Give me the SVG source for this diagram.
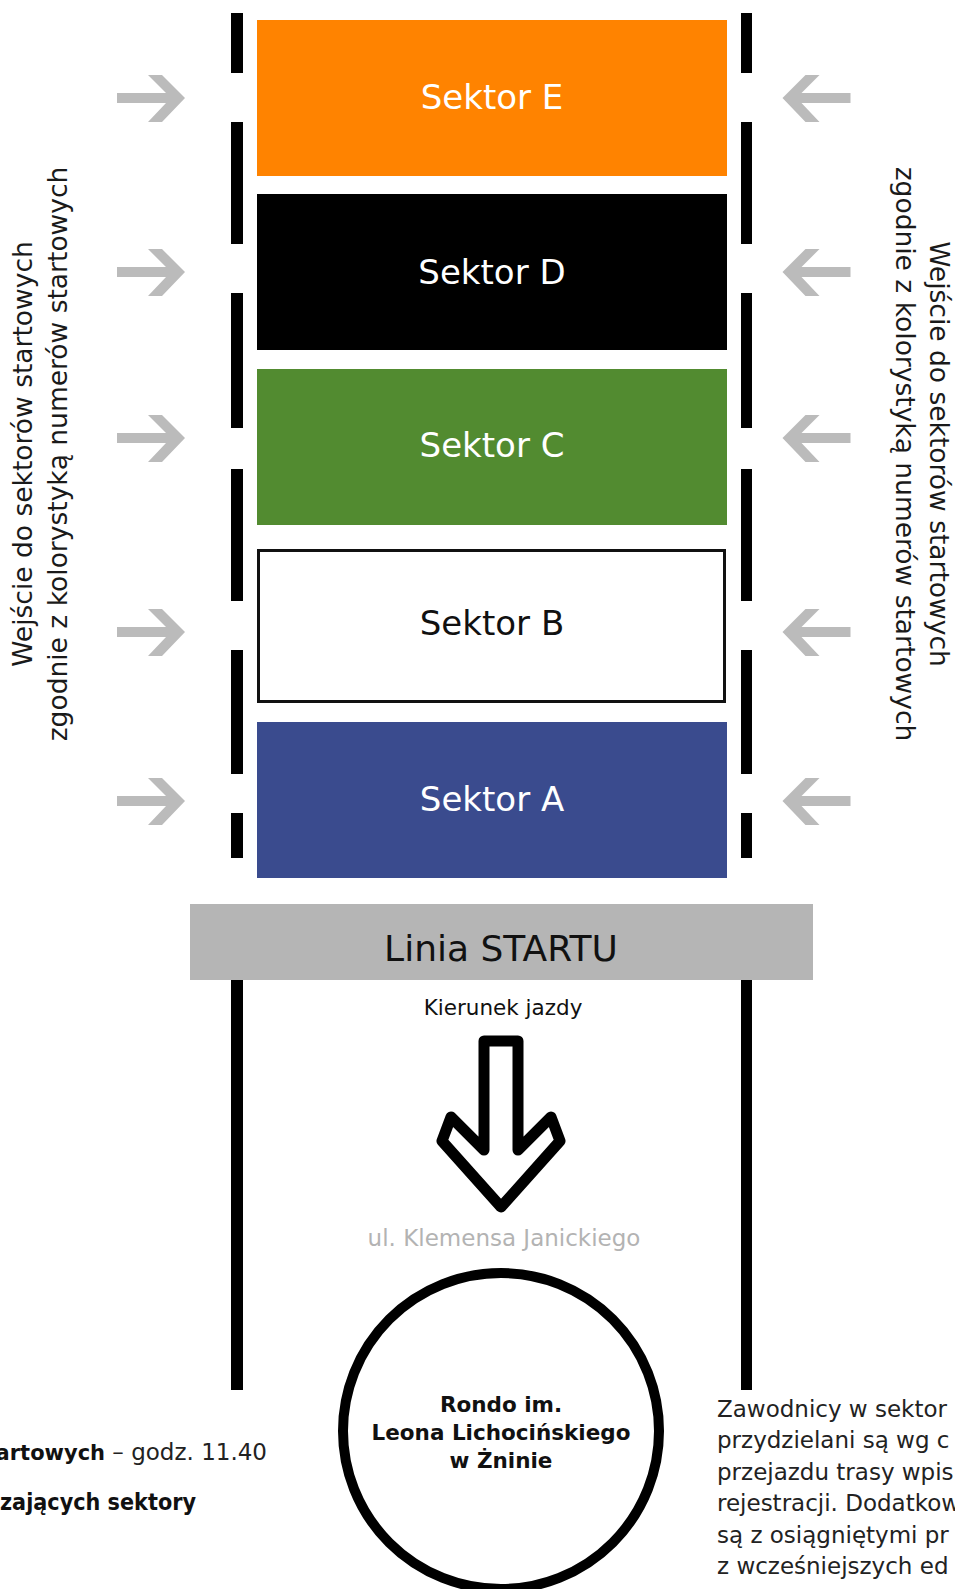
<svg xmlns="http://www.w3.org/2000/svg" width="955" height="1589" viewBox="0 0 955 1589">
<style>
text{font-family:"DejaVu Sans","Liberation Sans",sans-serif;}
.lbl{font-size:34px;text-anchor:middle;fill:#fff;}
.side{font-size:26.5px;text-anchor:middle;fill:#1a1a1a;}
.bar{fill:#000;}
.ent{fill:#bbbbbb;}
.body{font-size:23px;fill:#222;}
.b{font-weight:bold;fill:#111;}
</style>
<defs>
<polygon id="entry" points="148,75 162,75 185,98 162,122 148,122 166,103 117,103 117,93 166,93"/>
</defs>
<rect width="955" height="1589" fill="#fff"/>
<g id="lanes">
<rect class="bar" x="231" y="13" width="12" height="60"/>
<rect class="bar" x="231" y="122" width="12" height="122"/>
<rect class="bar" x="231" y="293" width="12" height="135"/>
<rect class="bar" x="231" y="469" width="12" height="132"/>
<rect class="bar" x="231" y="650" width="12" height="124"/>
<rect class="bar" x="231" y="813" width="12" height="45"/>
<rect class="bar" x="231" y="976" width="12" height="414"/>
<rect class="bar" x="741" y="13" width="11" height="60"/>
<rect class="bar" x="741" y="122" width="11" height="122"/>
<rect class="bar" x="741" y="293" width="11" height="135"/>
<rect class="bar" x="741" y="469" width="11" height="132"/>
<rect class="bar" x="741" y="650" width="11" height="124"/>
<rect class="bar" x="741" y="813" width="11" height="45"/>
<rect class="bar" x="741" y="976" width="11" height="414"/>
</g>
<g id="sektor-e">
<rect x="257" y="20" width="470" height="156" fill="#ff8300"/>
<text class="lbl" x="492" y="109">Sektor E</text>
</g>
<g id="sektor-d">
<rect x="257" y="194" width="470" height="156" fill="#000"/>
<text class="lbl" x="492" y="284">Sektor D</text>
</g>
<g id="sektor-c">
<rect x="257" y="369" width="470" height="156" fill="#528b30"/>
<text class="lbl" x="492" y="457">Sektor C</text>
</g>
<g id="sektor-b">
<rect x="258.5" y="550.5" width="466" height="151" fill="#fff" stroke="#111" stroke-width="3"/>
<text class="lbl" x="492" y="635" style="fill:#111">Sektor B</text>
</g>
<g id="sektor-a">
<rect x="257" y="722" width="470" height="156" fill="#3a4b8e"/>
<text class="lbl" x="492" y="811">Sektor A</text>
</g>
<g id="linia-startu">
<rect x="190" y="904" width="623" height="76" fill="#b5b5b5"/>
<text x="501" y="961" font-size="36" text-anchor="middle" fill="#111">Linia STARTU</text>
</g>
<g id="wejscie-lewe">
<text class="side" transform="translate(32,454) rotate(-90)">Wejście do sektorów startowych</text>
<text class="side" transform="translate(67,454) rotate(-90)">zgodnie z kolorystyką numerów startowych</text>
</g>
<g id="wejscie-prawe">
<text class="side" transform="translate(930,454) rotate(90)">Wejście do sektorów startowych</text>
<text class="side" transform="translate(896,454) rotate(90)">zgodnie z kolorystyką numerów startowych</text>
</g>
<g id="connectors">
<use href="#entry" class="ent" y="0"/>
<use href="#entry" class="ent" y="174"/>
<use href="#entry" class="ent" y="340"/>
<use href="#entry" class="ent" y="534"/>
<use href="#entry" class="ent" y="703"/>
<g transform="translate(967.5,0) scale(-1,1)">
<use href="#entry" class="ent" y="0"/>
<use href="#entry" class="ent" y="174"/>
<use href="#entry" class="ent" y="340"/>
<use href="#entry" class="ent" y="534"/>
<use href="#entry" class="ent" y="703"/>
</g>
<path id="kierunek-arrow" d="M484,1041 L518,1041 L518,1150 L551,1117 L560,1141 L501,1207 L442,1141 L451,1117 L484,1150 Z" fill="#fff" stroke="#000" stroke-width="11" stroke-linejoin="round"/>
</g>
<g id="kierunek">
<text x="503" y="1015" font-size="21.5" text-anchor="middle" fill="#111">Kierunek jazdy</text>
</g>
<g id="ulica">
<text x="504" y="1246" font-size="23" text-anchor="middle" fill="#b3b3b3">ul. Klemensa Janickiego</text>
</g>
<g id="rondo">
<circle cx="501" cy="1431" r="158" fill="#fff" stroke="#000" stroke-width="10"/>
<text x="501" y="1412" font-size="21.5" font-weight="bold" text-anchor="middle" fill="#111">Rondo im.</text>
<text x="501" y="1440" font-size="21.5" font-weight="bold" text-anchor="middle" fill="#111">Leona Lichocińskiego</text>
<text x="501" y="1468" font-size="21.5" font-weight="bold" text-anchor="middle" fill="#111">w Żninie</text>
</g>
<g id="info-lewe">
<text class="body" x="267" y="1460" text-anchor="end"><tspan class="b" font-size="21">artowych</tspan> – godz. 11.40</text>
<text class="body b" x="0" y="1510" font-size="21" textLength="196" lengthAdjust="spacingAndGlyphs">zających sektory</text>
</g>
<g id="info-prawe">
<text class="body" x="717" y="1417">Zawodnicy w sektor</text>
<text class="body" x="717" y="1448">przydzielani są wg c</text>
<text class="body" x="717" y="1480">przejazdu trasy wpis</text>
<text class="body" x="717" y="1511">rejestracji. Dodatkow</text>
<text class="body" x="717" y="1543">są z osiągniętymi pr</text>
<text class="body" x="717" y="1574">z wcześniejszych ed</text>
</g>
</svg>
